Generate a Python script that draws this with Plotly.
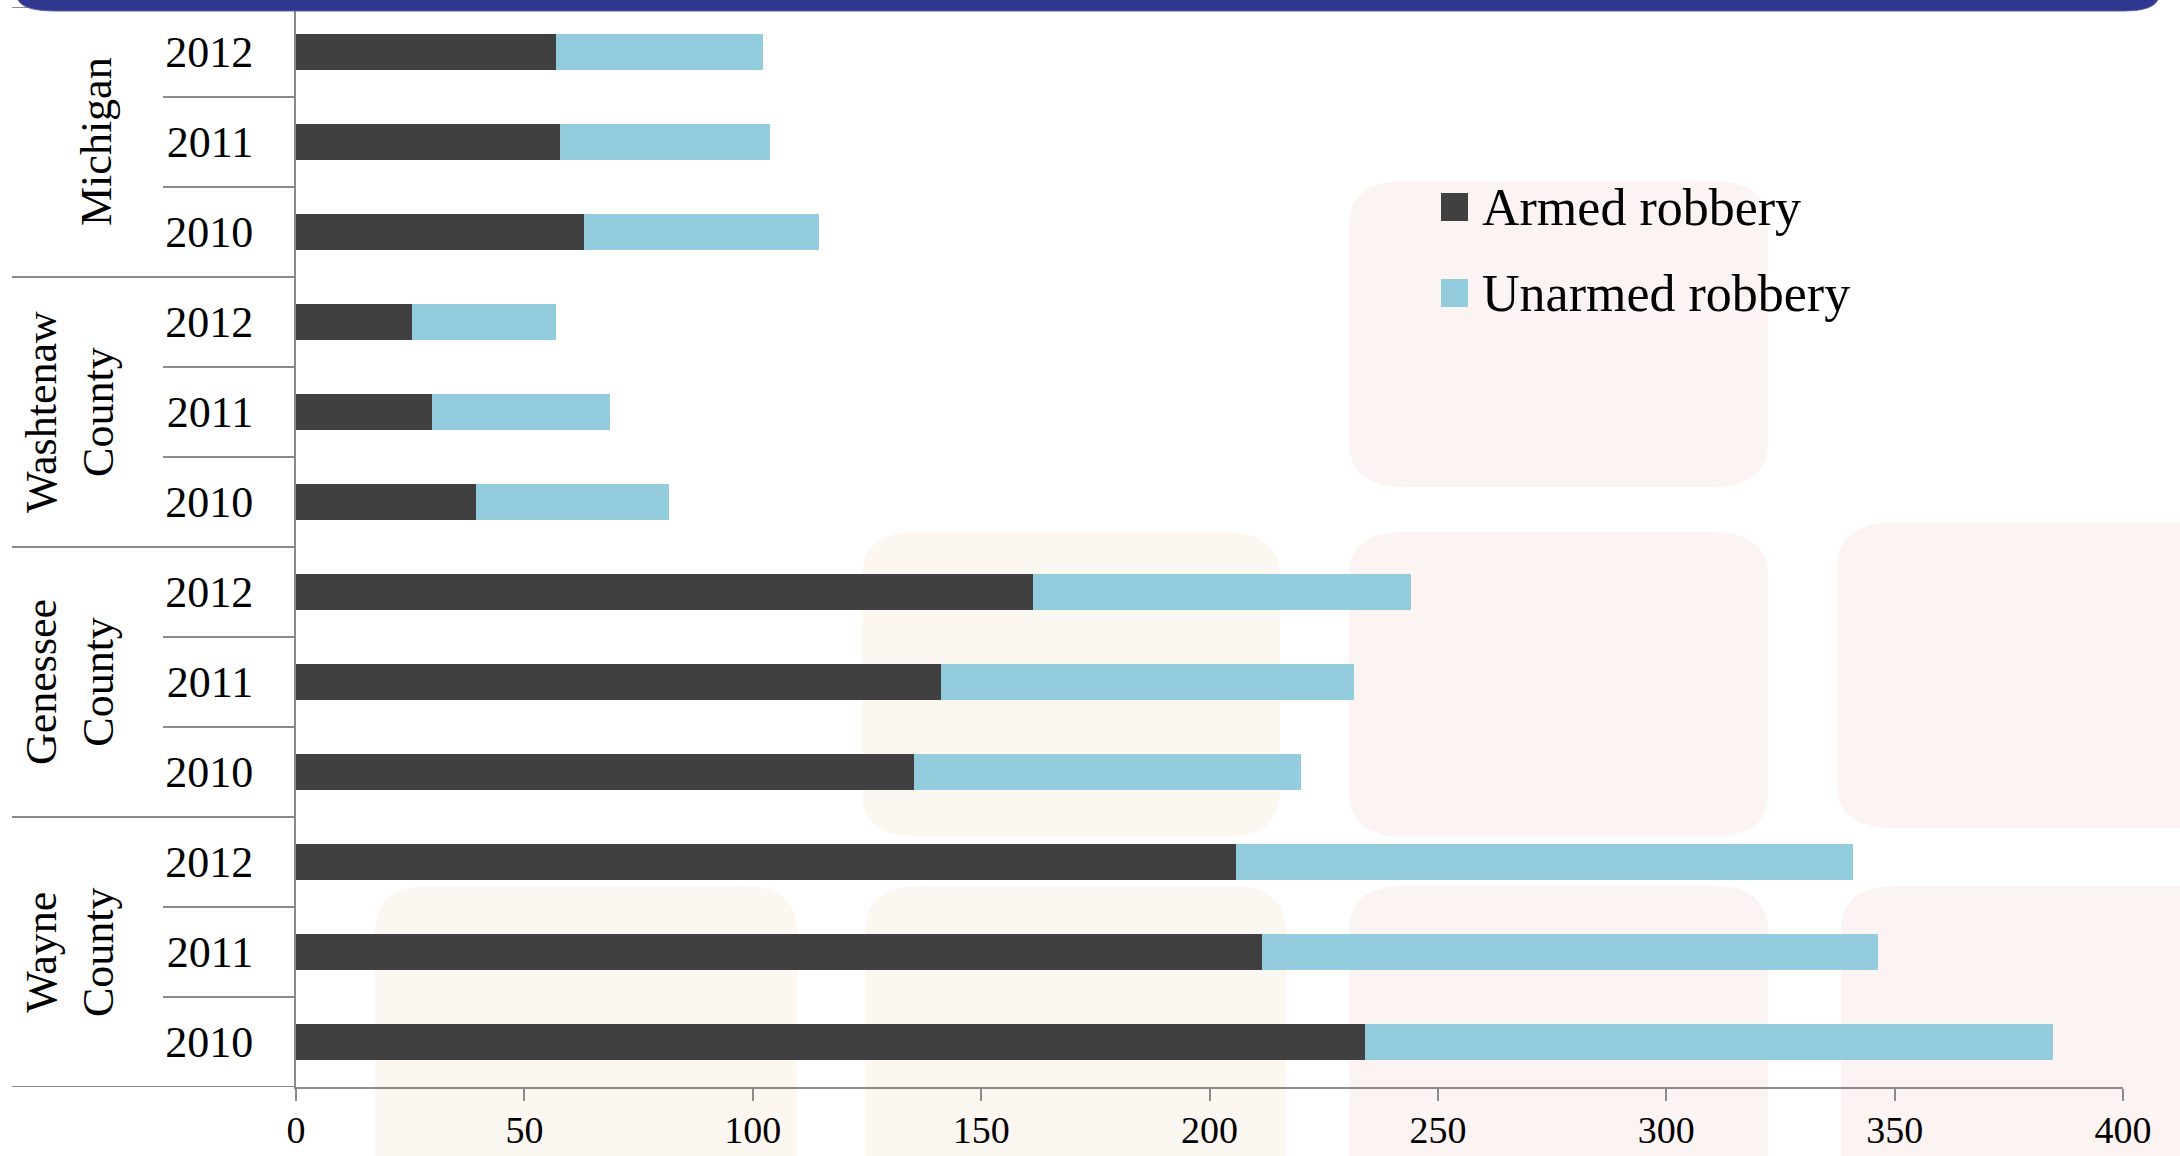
import plotly.graph_objects as go

# ---- data ----
groups = ["Michigan", "Washtenaw<br>County", "Genessee<br>County", "Wayne<br>County"]
years = ["2012", "2011", "2010"]
armed = [56.9, 57.8, 63.0, 25.3, 29.8, 39.3, 161.3, 141.2, 135.2, 205.8, 211.6, 234.0]
unarmed = [45.3, 46.0, 51.6, 31.6, 39.0, 42.3, 82.8, 90.5, 84.9, 135.1, 134.8, 150.7]
series_names = ["Armed robbery", "Unarmed robbery"]
x_ticks = [0, 50, 100, 150, 200, 250, 300, 350, 400]

keys = [f"{g}|{y}" for g in groups for y in years]
year_labels = [y for g in groups for y in years]

FONT = "Liberation Serif"
DARK = "#404040"
LIGHT = "#93CDDD"
GRAY = "#8a8a8a"

W, H = 2180, 1156
PL, PR, PT, PB = 296, 2123, 7, 1087


def px(x):
    return (x - PL) / (PR - PL)


def py(y):
    return (PB - y) / (PB - PT)


def rounded_rect(x0, y0, x1, y1, rx=55, ry=45):
    pts = [
        ("M", [(x0 + rx, y0)]),
        ("L", [(x1 - rx, y0)]),
        ("Q", [(x1, y0), (x1, y0 + ry)]),
        ("L", [(x1, y1 - ry)]),
        ("Q", [(x1, y1), (x1 - rx, y1)]),
        ("L", [(x0 + rx, y1)]),
        ("Q", [(x0, y1), (x0, y1 - ry)]),
        ("L", [(x0, y0 + ry)]),
        ("Q", [(x0, y0), (x0 + rx, y0)]),
    ]
    s = ""
    for cmd, ps in pts:
        s += cmd + " ".join(f"{px(a):.5f},{py(b):.5f}" for a, b in ps) + " "
    return s + "Z"


fig = go.Figure()
fig.add_trace(go.Bar(y=keys, x=armed, orientation="h", name=series_names[0],
                     marker=dict(color=DARK, line=dict(width=0)), showlegend=False))
fig.add_trace(go.Bar(y=keys, x=unarmed, orientation="h", name=series_names[1],
                     marker=dict(color=LIGHT, line=dict(width=0)), showlegend=False))

shapes = []
# decorative background tiles
PINK = "rgb(252,244,242)"
PEACH = "rgb(253,247,242)"
tiles = [
    (1349, 181, 1768, 487, PINK),
    (862, 532, 1280, 837, PEACH),
    (1349, 532, 1768, 837, PINK),
    (1837, 523, 2260, 828, PINK),
    (375, 886, 797, 1250, PEACH),
    (865, 886, 1286, 1250, PEACH),
    (1349, 886, 1768, 1250, PINK),
    (1841, 886, 2260, 1250, PINK),
]
for x0, y0, x1, y1, c in tiles:
    shapes.append(dict(type="path", xref="paper", yref="paper", path=rounded_rect(x0, y0, x1, y1),
                       fillcolor=c, line=dict(width=0), layer="below"))

# navy band at top
band = (f"M{px(18):.5f},{py(-10):.5f} L{px(18):.5f},{py(0):.5f} "
        f"Q{px(24):.5f},{py(11):.5f} {px(55):.5f},{py(11):.5f} "
        f"L{px(2125):.5f},{py(11):.5f} Q{px(2152):.5f},{py(11):.5f} {px(2158):.5f},{py(0):.5f} "
        f"L{px(2158):.5f},{py(-10):.5f} Z")

# dividers in label area
n = len(keys)
for i in range(n + 1):
    yv = i - 0.5
    if i % 3 == 0:
        x0 = px(12)
    else:
        x0 = px(163)
    shapes.append(dict(type="line", xref="paper", yref="y", x0=x0, x1=0, y0=yv, y1=yv,
                       line=dict(color=GRAY, width=2), layer="above"))

shapes.append(dict(type="path", xref="paper", yref="paper", path=band,
                   fillcolor="#2E3690", line=dict(color="#5a60a8", width=1), layer="above"))

# legend squares
legend_y = [207, 293]
legend_cols = [DARK, LIGHT]
for yy, c in zip(legend_y, legend_cols):
    shapes.append(dict(type="rect", xref="paper", yref="paper",
                       x0=px(1441), x1=px(1468), y0=py(yy - 14), y1=py(yy + 14),
                       fillcolor=c, line=dict(width=0), layer="above"))

annotations = []
for yy, name in zip(legend_y, series_names):
    annotations.append(dict(xref="paper", yref="paper", x=px(1480), y=py(yy), text=name,
                            showarrow=False, xanchor="left", yanchor="middle",
                            font=dict(family=FONT, size=52, color="black")))

# group labels
for gi, g in enumerate(groups):
    mid = keys[gi * 3 + 1]
    xc = 96 if "<br>" not in g else 70
    annotations.append(dict(xref="paper", yref="y", x=px(xc), y=mid, text=g,
                            textangle=-90, showarrow=False, xanchor="center", yanchor="middle",
                            font=dict(family=FONT, size=44, color="black")))

fig.update_layout(
    width=W, height=H, autosize=False,
    margin=dict(l=PL, r=W - PR, t=PT, b=H - PB, autoexpand=False),
    barmode="stack", bargap=0.6,
    paper_bgcolor="white", plot_bgcolor="rgba(0,0,0,0)",
    shapes=shapes, annotations=annotations,
    font=dict(family=FONT, color="black"),
)
fig.update_yaxes(
    type="category", categoryorder="array", categoryarray=keys,
    range=[n - 0.5, -0.5], automargin=False,
    tickmode="array", tickvals=keys, ticktext=year_labels,
    showline=True, linecolor=GRAY, linewidth=2, ticks="",
    showgrid=False, zeroline=False,
    tickfont=dict(family=FONT, size=44, color="black"),
    ticklabelstandoff=32,
)
fig.update_xaxes(
    range=[0, 400], tickmode="array", tickvals=x_ticks, automargin=False,
    showline=True, linecolor=GRAY, linewidth=2,
    ticks="outside", ticklen=12, tickwidth=1.5, tickcolor=GRAY,
    showgrid=False, zeroline=False,
    tickfont=dict(family=FONT, size=38, color="black"),
    ticklabelstandoff=-4,
)

fig.write_html("out.html")
